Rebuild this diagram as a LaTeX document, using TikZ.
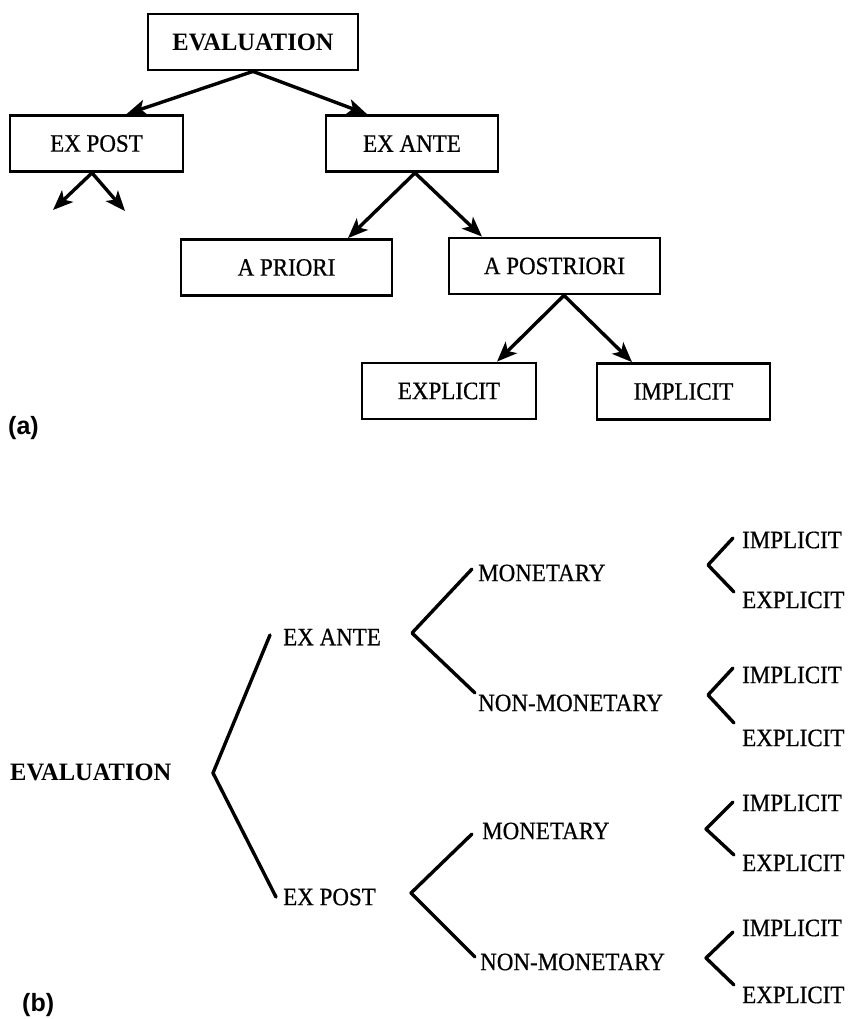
\documentclass[tikz,border=0pt]{standalone}
\usepackage{fontspec}
\setmainfont{Liberation Serif}[FakeStretch=0.92,FakeBold=0.6]
\newfontfamily\headfamily{Liberation Serif}[FakeStretch=0.98]
\newfontfamily\tagfamily{Liberation Sans}
\usetikzlibrary{arrows.meta}
\newcommand\lblfont{\fontsize{25}{29}\selectfont}
\newcommand\headfont{\fontsize{25}{29}\selectfont\headfamily\bfseries}
\newcommand\tagfont{\fontsize{25}{29}\selectfont\tagfamily\bfseries}
\begin{document}
\begin{tikzpicture}[x=1pt,y=-1pt,
  box/.style={draw,line width=2.8pt,minimum width=#1,minimum height=56pt,inner sep=0pt,font=\lblfont},
  arr/.style={line width=3.4pt,-{Stealth[length=20pt,width=16pt,inset=5pt]}},
  tx/.style={anchor=west,inner sep=0pt,font=\lblfont},
  br/.style={line width=3.4pt,line cap=round,line join=round}]
\useasboundingbox (0,0) rectangle (847,1019);

% ---------- (a) tree of boxes ----------
\node[box=210pt,font=\headfont] (eval) at (253,42) {EVALUATION};
\node[box=173pt] (expost) at (96.5,143.5) {EX POST};
\node[box=172pt] (exante) at (412,143.5) {EX ANTE};
\node[box=211pt] (apriori) at (286.5,267.5) {A PRIORI};
\node[box=211pt] (apost) at (554.5,266) {A POSTRIORI};
\node[box=174pt] (explicit) at (449,391) {EXPLICIT};
\node[box=173pt] (implicit) at (683.5,391.5) {IMPLICIT};
\coordinate (expostL) at (53,210);
\coordinate (expostR) at (125,211);

\draw[arr] (eval.south) -- ([xshift=30pt]expost.north);
\draw[arr] (eval.south) -- ([xshift=-45pt]exante.north);
\draw[arr] ([xshift=-4.5pt]expost.south) -- (expostL);
\draw[arr] ([xshift=-4.5pt]expost.south) -- (expostR);
\draw[arr] ([xshift=3pt]exante.south) -- ([xshift=61.5pt]apriori.north);
\draw[arr] ([xshift=3pt]exante.south) -- ([xshift=-72.5pt]apost.north);
\draw[arr] ([xshift=9.5pt]apost.south) -- ([xshift=48pt]explicit.north);
\draw[arr] ([xshift=9.5pt]apost.south) -- ([xshift=-51.5pt]implicit.north);

\node[anchor=west,inner sep=0pt,font=\tagfont] (taga) at (8,428) {(a)};

% ---------- (b) bracket tree ----------
\node[tx,font=\headfont] (evalB) at (10,772) {EVALUATION};
\node[tx] (exanteB) at (283,637) {EX ANTE};
\node[tx] (expostB) at (283,897) {EX POST};
\node[tx] (monA) at (478,573) {MONETARY};
\node[tx] (nonA) at (478,703) {NON-MONETARY};
\node[tx] (monB) at (482,831) {MONETARY};
\node[tx] (nonB) at (480,962) {NON-MONETARY};
\node[tx] (imA) at (742,540) {IMPLICIT};
\node[tx] (exA) at (742,600) {EXPLICIT};
\node[tx] (imB) at (742,675) {IMPLICIT};
\node[tx] (exB) at (742,738) {EXPLICIT};
\node[tx] (imC) at (742,803) {IMPLICIT};
\node[tx] (exC) at (742,863) {EXPLICIT};
\node[tx] (imD) at (742,928) {IMPLICIT};
\node[tx] (exD) at (742,995) {EXPLICIT};

\coordinate (v0) at (213,773);
\coordinate (v1) at (412,633);
\coordinate (v2) at (411,893);
\coordinate (v3) at (708,565);
\coordinate (v4) at (708,695);
\coordinate (v5) at (706,829);
\coordinate (v6) at (706,958);

\draw[br] ([shift={(-13,-2)}]exanteB.west) -- (v0) -- ([shift={(-7,0)}]expostB.west);
\draw[br] ([shift={(-6,-4)}]monA.west) -- (v1) -- ([shift={(-3,-10)}]nonA.west);
\draw[br] ([shift={(-10,3)}]monB.west) -- (v2) -- ([shift={(-5,-5)}]nonB.west);
\draw[br] ([shift={(-9,-2)}]imA.west) -- (v3) -- ([shift={(-8,-8)}]exA.west);
\draw[br] ([shift={(-9,-7)}]imB.west) -- (v4) -- ([shift={(-8,-15)}]exB.west);
\draw[br] ([shift={(-9,-1)}]imC.west) -- (v5) -- ([shift={(-8,-8)}]exC.west);
\draw[br] ([shift={(-9,4)}]imD.west) -- (v6) -- ([shift={(-8,-10)}]exD.west);

\node[anchor=west,inner sep=0pt,font=\tagfont] (tagb) at (22,1005) {(b)};
\end{tikzpicture}
\end{document}
